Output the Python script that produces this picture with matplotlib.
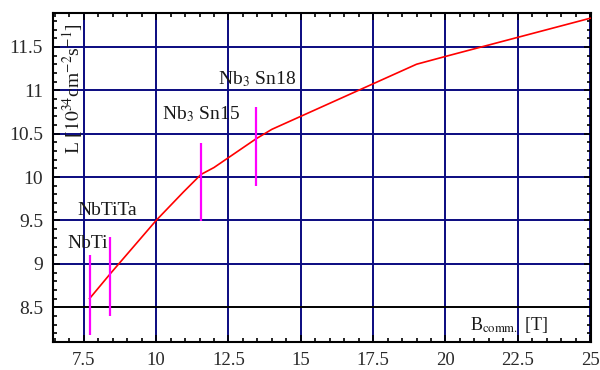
import matplotlib
matplotlib.use("Agg")
import matplotlib.pyplot as plt
from matplotlib.ticker import MultipleLocator

plt.rcParams['font.family'] = ['Liberation Serif', 'DejaVu Serif']
plt.rcParams['mathtext.fontset'] = 'stix'

# Luminosity curve data
B_field = [7.7, 8.4, 10.0, 10.95, 11.55, 12.0, 13.45, 14.0, 15.0, 17.0, 19.0, 20.0, 22.5, 25.0]
lumi = [8.60, 8.88, 9.50, 9.83, 10.03, 10.11, 10.44, 10.55, 10.70, 11.00, 11.30, 11.39, 11.61, 11.83]

# Magnet technology markers (vertical bars)
mag_x = [7.7, 8.4, 11.55, 13.45]
mag_lo = [8.18, 8.40, 9.49, 9.90]
mag_hi = [9.10, 9.31, 10.39, 10.81]

# Annotation labels
labels = ['NbTi', 'NbTiTa', r'Nb$_3$ Sn15', r'Nb$_3$ Sn18']
label_x = [6.92, 7.28, 10.22, 12.15]
label_y = [9.23, 9.61, 10.72, 11.13]

xticks = [7.5, 10, 12.5, 15, 17.5, 20, 22.5, 25]
xticklabels = ['7.5', '10', '12.5', '15', '17.5', '20', '22.5', '25']
yticks = [8.5, 9, 9.5, 10, 10.5, 11, 11.5]
yticklabels = ['8.5', '9', '9.5', '10', '10.5', '11', '11.5']

fig = plt.figure(figsize=(6.0, 3.7), dpi=100)
ax = fig.add_axes([0.088, 0.0757, 0.897, 0.890])

ax.set_xlim(6.43, 25.03)
ax.set_ylim(8.10, 11.894)

navy = '#0a0a80'
for xv in xticks:
    ax.axvline(xv, color=navy, lw=1.4, zorder=1)
for yv in yticks:
    if yv == 8.5:
        ax.axhline(yv, color='black', lw=1.4, zorder=1)
    else:
        ax.axhline(yv, color=navy, lw=1.4, zorder=1)

ax.plot(B_field, lumi, color='red', lw=1.2, zorder=3)
ax.vlines(mag_x, mag_lo, mag_hi, color='#ff00ff', lw=1.6, zorder=4)

for t, lx, ly in zip(labels, label_x, label_y):
    ax.text(lx, ly, t, fontsize=14, ha='left', va='center', color='#1a1a1a', zorder=5)

ax.text(7.10, 11.02, r'L [$10^{34}$cm$^{-2}$s$^{-1}$]', rotation=90, fontsize=14,
        ha='center', va='center', color='#1a1a1a', zorder=5)
ax.text(22.2, 8.29, r'B$_{\rm comm.}$ [T]', fontsize=13, ha='center', va='center',
        color='#1a1a1a', zorder=5)

ax.set_xticks(xticks)
ax.set_xticklabels(xticklabels)
ax.set_yticks(yticks)
ax.set_yticklabels(yticklabels)
ax.xaxis.set_minor_locator(MultipleLocator(0.5))
ax.yaxis.set_minor_locator(MultipleLocator(0.1))
ax.tick_params(which='both', direction='in', top=True, right=True, colors='black',
               labelcolor='#2a2a2a', labelsize=14, width=1.2)
ax.tick_params(which='major', length=5, pad=7)
ax.tick_params(axis='x', which='major', pad=7, labelsize=13.5)
ax.tick_params(which='minor', length=3)
for s in ax.spines.values():
    s.set_linewidth(1.5)
    s.set_color('black')

fig.savefig('out.png', dpi=100)
